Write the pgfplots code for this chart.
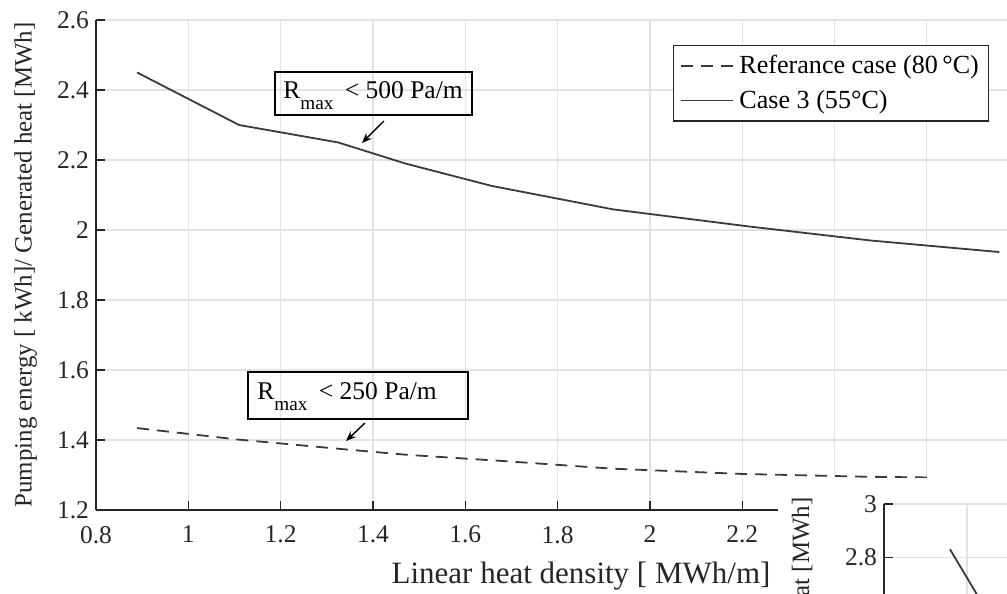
\documentclass[border=0pt]{standalone}
\usepackage{fontspec}
\setmainfont{Liberation Serif}
\usepackage{pgfplots}
\pgfplotsset{compat=1.18}
\usetikzlibrary{arrows.meta}
\definecolor{axgray}{HTML}{262626}
\definecolor{gridgray}{HTML}{E2E2E2}
\definecolor{linegray}{HTML}{3A3A3A}
\newcommand{\fs}{\fontsize{12.75}{15}\selectfont}
\newcommand{\sub}[1]{\raisebox{-5.5pt}{\fontsize{9.6}{10}\selectfont #1}}

\begin{document}
\begin{tikzpicture}[x=1pt,y=1pt]
\path[use as bounding box] (0,0) rectangle (503.5,297);
\clip (0,0) rectangle (503.5,297);
\begin{axis}[
  at={(48pt,42pt)}, anchor=south west,
  scale only axis, width=455.5pt, height=245pt,
  xmin=0.8, xmax=2.7736, ymin=1.2, ymax=2.6,
  axis x line=bottom, axis y line=left,
  axis line style={axgray, line width=0.7pt, -},
  xtick={0.8,1,1.2,1.4,1.6,1.8,2,2.2,2.4,2.6},
  ytick={1.2,1.4,1.6,1.8,2,2.2,2.4,2.6},
  tick align=inside, major tick length=4.5pt,
  tick style={axgray, line width=0.6pt},
  grid=major, major grid style={gridgray, line width=0.6pt},
  tick label style={font=\fs, text=axgray},
  /pgf/number format/assume math mode=true,
  /pgf/number format/fixed,
  xticklabel style={yshift=-4.5pt},
  xlabel={Linear heat density [ MWh/m]},
  xlabel style={at={(axis description cs:0.5324,-0.149)}, anchor=base,
    font=\fontsize{15.5}{18}\selectfont, text=axgray},
  ylabel={Pumping energy [ kWh]/ Generated heat [MWh]},
  ylabel style={at={(axis description cs:-0.0707,0.5)}, anchor=base,
    font=\fontsize{12.45}{14}\selectfont, text=axgray},
  legend style={at={(axis description cs:0.6334,0.949)}, anchor=north west,
    draw=axgray, line width=0.6pt, font=\fontsize{13.05}{15}\selectfont, row sep=2.5pt,
    inner xsep=3pt, inner ysep=3pt, column sep=1pt},
  legend cell align=left,
  legend image code/.code={\draw[#1] (0pt,0pt) -- (26pt,0pt);},
]
\addplot[linegray, line width=0.9pt, dash pattern=on 6pt off 4pt] coordinates {
 (0.889,1.434) (1.110,1.401) (1.325,1.375) (1.470,1.358) (1.670,1.341)
 (1.920,1.318) (2.200,1.303) (2.470,1.295) (2.600,1.293)};
\addlegendentry{Referance case (80\,°C)}
\addplot[linegray, line width=0.9pt] coordinates {
 (0.889,2.450) (1.110,2.300) (1.325,2.250) (1.470,2.190) (1.657,2.126)
 (1.920,2.059) (2.215,2.010) (2.478,1.970) (2.757,1.937)};
\addlegendentry{Case 3 (55°C)}

\draw[black, line width=0.8pt] (axis cs:1.1878,2.4514) rectangle (axis cs:1.6146,2.3286);
\node[anchor=base west, inner sep=0pt, font=\fs] at (axis cs:1.2051,2.3743)
  {R\sub{max}\hspace{0.45em}< 500 Pa/m};
\draw[black, line width=0.7pt, -{Stealth[length=5pt,width=4pt]}]
  (axis cs:1.4239,2.3114) -- (axis cs:1.3762,2.2486);

\draw[black, line width=0.8pt] (axis cs:1.1293,1.5943) rectangle (axis cs:1.6059,1.4600);
\node[anchor=base west, inner sep=0pt, font=\fs] at (axis cs:1.1488,1.5171)
  {R\sub{max}\hspace{0.45em}< 250 Pa/m};
\draw[black, line width=0.7pt, -{Stealth[length=5pt,width=4pt]}]
  (axis cs:1.3828,1.4486) -- (axis cs:1.3416,1.3971);
\end{axis}

\fill[white] (389,0) rectangle (503.5,58);
\begin{axis}[
  at={(442pt,-34.95pt)}, anchor=south west,
  scale only axis, width=83pt, height=79.95pt,
  xmin=0, xmax=2, ymin=2.4, ymax=3,
  axis x line=bottom, axis y line=left,
  axis line style={axgray, line width=0.7pt, -},
  xtick={0,1,2}, ytick={2.4,2.6,2.8,3}, xticklabels={},
  tick align=inside, major tick length=4.5pt,
  tick style={axgray, line width=0.6pt},
  grid=major, major grid style={gridgray, line width=0.6pt},
  tick label style={font=\fs, text=axgray},
  /pgf/number format/assume math mode=true,
]
\addplot[linegray, line width=0.9pt] coordinates {(0.795,2.830) (1.117,2.662) (1.150,2.645)};
\end{axis}
\node[rotate=90, anchor=base east, inner sep=0pt, font=\fontsize{12.45}{14}\selectfont, text=axgray] at (404.5,48.5)
  {Pumping energy [ kWh]/ Generated heat [MWh]};
\end{tikzpicture}
\end{document}
